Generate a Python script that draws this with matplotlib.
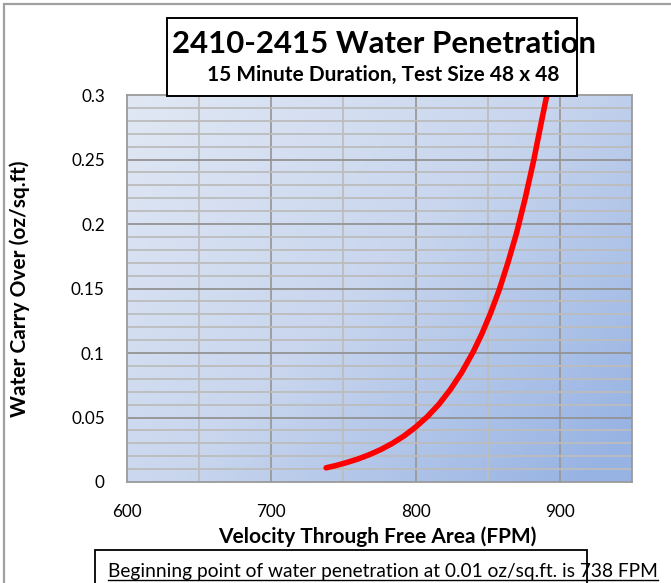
import numpy as np
import matplotlib
matplotlib.use("Agg")
import matplotlib.pyplot as plt
from matplotlib.patches import Rectangle
from matplotlib.lines import Line2D
from matplotlib.colors import LinearSegmentedColormap

# values (red trend curve)
velocity = [738, 745, 752, 760, 768, 776, 784, 792, 800, 808, 816, 824, 832,
            840, 846, 852, 858, 864, 870, 876, 882, 887, 891]
carry_over = [0.0110, 0.0128, 0.0150, 0.0178, 0.0212, 0.0252, 0.0300, 0.0357,
              0.0425, 0.0505, 0.0600, 0.0715, 0.0850, 0.1010, 0.1150, 0.1310,
              0.1490, 0.1700, 0.1930, 0.2200, 0.2500, 0.2780, 0.3000]

x_ticks = [600, 700, 800, 900]
y_ticks = [0, 0.05, 0.1, 0.15, 0.2, 0.25, 0.3]
y_tick_labels = ["0", "0.05", "0.1", "0.15", "0.2", "0.25", "0.3"]

title = "2410-2415 Water Penetration"
subtitle = "15 Minute Duration, Test Size 48 x 48"
x_label = "Velocity Through Free Area (FPM)"
y_label = "Water Carry Over (oz/sq.ft)"
note = "Beginning point of water penetration at 0.01 oz/sq.ft. is 738 FPM"

plt.rcParams["font.family"] = ["Lato", "DejaVu Sans"]

W, H = 671, 583
fig = plt.figure(figsize=(W / 100, H / 100), dpi=100)


def fx(px):
    return px / W


def fy(py):
    return 1 - py / H


ax = fig.add_axes([fx(127), fy(482), fx(632) - fx(127), fy(95) - fy(482)])
ax.set_xlim(600, 950)
ax.set_ylim(0, 0.3)

# gradient fill of the plot area
gx, gy = np.meshgrid(np.linspace(0, 1, 200), np.linspace(1, 0, 200))
grad = np.clip(0.6 * gx + 0.45 * (1 - gy), 0, 1)
cmap = LinearSegmentedColormap.from_list("bg", ["#e1e8f4", "#c9d6ee", "#97b3e3"])
ax.imshow(grad, extent=[600, 950, 0, 0.3], aspect="auto", cmap=cmap,
          origin="upper", zorder=0, vmin=0, vmax=1)

# grid
for v in np.arange(650, 950, 50):
    major = v % 100 == 0
    ax.axvline(v, color="#9a9a9a" if major else "#bdbdbd", lw=1.3, zorder=1)
for k in range(1, 30):
    v = k * 0.01
    major = k % 5 == 0
    ax.axhline(v, color="#939393" if major else "#bcbcbc", lw=1.3, zorder=1)

ax.plot(velocity, carry_over, color="#ff0000", lw=4, solid_capstyle="round",
        solid_joinstyle="round", zorder=3)

for s in ax.spines.values():
    s.set_color("#9a9a9a")
    s.set_linewidth(1.3)

ax.set_xticks(x_ticks)
ax.set_yticks(y_ticks)
ax.set_yticklabels(y_tick_labels)
ax.tick_params(length=0, labelsize=12.3, colors="black")
ax.tick_params(axis="y", pad=16)
ax.tick_params(axis="x", pad=16)

fig.text(fx(377), fy(537), x_label, ha="center", va="center",
         fontsize=15, fontweight="bold")
fig.text(fx(20), fy(289), y_label, ha="center", va="center", rotation=90,
         fontsize=15, fontweight="bold")

# outer chart border (top and left visible)
fig.patches.append(Rectangle((fx(4), fy(700)), 2, fy(4) - fy(700),
                             transform=fig.transFigure, fill=False,
                             edgecolor="#a0a0a0", lw=1.6, zorder=1))

# title box
fig.patches.append(Rectangle((fx(167), fy(96)), fx(577) - fx(167), fy(18) - fy(96),
                             transform=fig.transFigure, facecolor="white",
                             edgecolor="black", lw=1.4, zorder=5))
fig.text(fx(384), fy(44), title, ha="center", va="center", fontsize=22.4,
         fontweight="bold", zorder=6)
fig.text(fx(383), fy(75), subtitle, ha="center", va="center", fontsize=15,
         fontweight="bold", zorder=6)

# note box at the bottom
fig.patches.append(Rectangle((fx(95), fy(600)), fx(587) - fx(95), fy(550) - fy(600),
                             transform=fig.transFigure, facecolor="white",
                             edgecolor="black", lw=1.3, zorder=5))
note_txt = fig.text(fx(108), fy(571), note, ha="left", va="center", fontsize=13.8,
                    zorder=6)

fig.canvas.draw()
bb = note_txt.get_window_extent().transformed(fig.transFigure.inverted())
fig.lines.append(Line2D([bb.x0, bb.x1], [fy(580), fy(580)], transform=fig.transFigure,
                        color="black", lw=1, zorder=6))

fig.savefig("out.png", dpi=100)
